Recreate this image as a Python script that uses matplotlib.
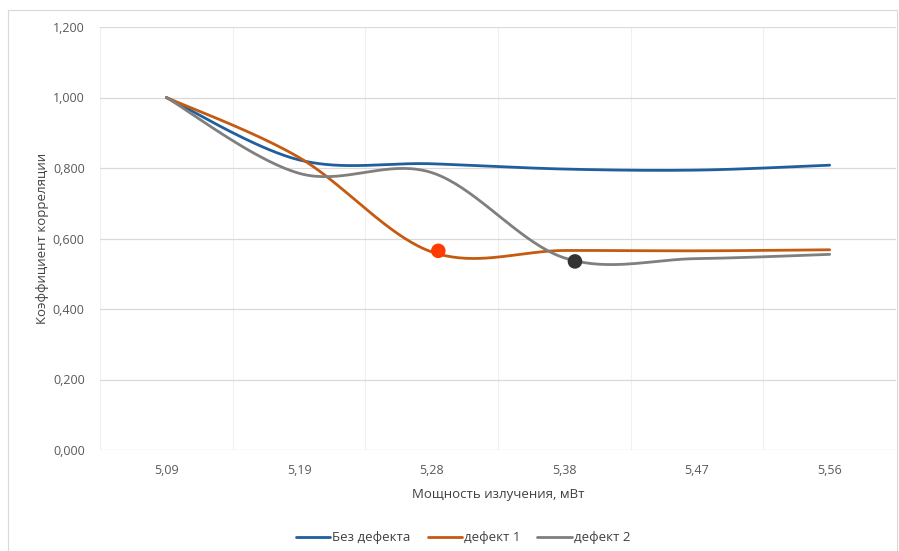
import numpy as np
import matplotlib
matplotlib.use("Agg")
import matplotlib.pyplot as plt
from matplotlib.patches import Rectangle

plt.rcParams['font.family'] = ['Open Sans', 'DejaVu Sans']

categories = ["5,09", "5,19", "5,28", "5,38", "5,47", "5,56"]
no_defect = [1.000, 0.823, 0.812, 0.797, 0.794, 0.808]
defect1 = [1.000, 0.830, 0.562, 0.566, 0.565, 0.568]
defect2 = [1.000, 0.785, 0.787, 0.545, 0.543, 0.555]
marker_x = [2.05, 3.08]
marker_y = [0.565, 0.535]
marker_colors = ["#FF3B00", "#333333"]
series_names = ["Без дефекта", "дефект 1", "дефект 2"]
series_colors = ["#1F5F9E", "#C55A11", "#7F7F7F"]
yticks = [0.0, 0.2, 0.4, 0.6, 0.8, 1.0, 1.2]


def smooth(xs, ys, n=40):
    xs = np.asarray(xs, float)
    ys = np.asarray(ys, float)
    px = [xs[0]] + list(xs) + [xs[-1]]
    py = [ys[0]] + list(ys) + [ys[-1]]
    ox, oy = [], []
    for i in range(1, len(px) - 2):
        p0 = np.array([px[i - 1], py[i - 1]])
        p1 = np.array([px[i], py[i]])
        p2 = np.array([px[i + 1], py[i + 1]])
        p3 = np.array([px[i + 2], py[i + 2]])
        c1 = p1 + (p2 - p0) / 6.0
        c2 = p2 - (p3 - p1) / 6.0
        t = np.linspace(0, 1, n)[:, None]
        pts = ((1 - t) ** 3) * p1 + 3 * ((1 - t) ** 2) * t * c1 + 3 * (1 - t) * t ** 2 * c2 + t ** 3 * p2
        ox.extend(pts[:, 0])
        oy.extend(pts[:, 1])
    return np.array(ox), np.array(oy)


fig = plt.figure(figsize=(8.99, 5.51), dpi=100)
fig.patches.append(Rectangle((8 / 899, -0.01), 889 / 899, 1 - 10 / 551 + 0.01,
                             transform=fig.transFigure, fill=False,
                             edgecolor="#D9D9D9", linewidth=0.8))
ax = fig.add_axes([100 / 899, 101 / 551, 796 / 899, 423 / 551])

x = np.arange(len(categories))
handles = []
for vals, name, col in zip([no_defect, defect1, defect2], series_names, series_colors):
    sx, sy = smooth(x, vals)
    h, = ax.plot(sx, sy, color=col, linewidth=2.0, label=name, solid_capstyle='round', zorder=3)
    handles.append(h)

ax.scatter(marker_x, marker_y, s=110, c=marker_colors, zorder=5, edgecolors='none')

ax.set_xlim(-0.5, len(categories) - 0.5)
ax.set_ylim(0, 1.2)
ax.set_yticks(yticks)
ax.set_yticklabels([f"{v:.3f}".replace(".", ",") for v in yticks])
ax.set_xticks(x)
ax.set_xticklabels(categories)
ax.set_xticks(np.arange(-0.5, len(categories), 0.5), minor=True)
ax.tick_params(axis='both', which='both', length=0, labelsize=9, labelcolor="#595959")
ax.tick_params(axis='y', pad=11)
ax.tick_params(axis='x', pad=10)
ax.grid(axis='y', color="#D9D9D9", linewidth=0.9)
ax.grid(axis='x', which='minor', color="#F0F0F0", linewidth=0.8)
ax.set_axisbelow(True)
for s in ax.spines.values():
    s.set_visible(False)

ax.set_xlabel("Мощность излучения, мВт", fontsize=9.5, color="#404040", labelpad=8)
ax.set_ylabel("Коэффициент корреляции", fontsize=9.5, color="#404040", labelpad=3)

fig.legend(handles=handles, labels=series_names, loc='center', bbox_to_anchor=(0.515, 1 - 538 / 551),
           ncol=3, frameon=False, fontsize=9.5, handlelength=2.6, handletextpad=0.15,
           columnspacing=1.3, labelcolor="#404040")

fig.savefig("out.png", dpi=100)
